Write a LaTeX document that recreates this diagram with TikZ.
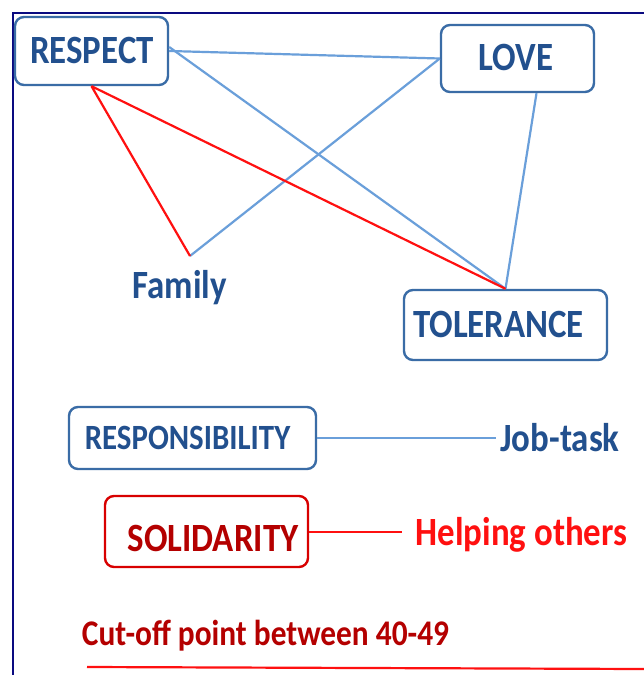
\documentclass[tikz,border=0pt]{standalone}
\usepackage{fontspec}
\setmainfont{Carlito}
\usepackage{graphicx}
\definecolor{navy}{HTML}{0A0A80}
\definecolor{boxblue}{HTML}{3A6CA6}
\definecolor{txtblue}{HTML}{22508E}
\definecolor{lineblue}{HTML}{6A9FDA}
\definecolor{lred}{HTML}{FF1010}
\definecolor{boxred}{HTML}{D80000}
\definecolor{darkred}{HTML}{B40000}
\newcommand{\tall}[1]{\scalebox{1}[1.15]{#1}}
\tikzset{
  vbox/.style={draw=boxblue, line width=2.4bp, rounded corners=9bp, inner sep=0pt},
  big/.style={font=\bfseries\fontsize{35}{38}\selectfont, inner sep=0pt},
  btxt/.style={big, text=txtblue},
  bline/.style={draw=lineblue, line width=2.2bp},
  rline/.style={draw=lred, line width=2.2bp},
}
\begin{document}
\begin{tikzpicture}[x=1bp,y=-1bp]
\useasboundingbox (0,0) rectangle (644,675);
\fill[white] (0,0) rectangle (644,675);
\draw[navy, line width=2bp] (644,13) -- (13,13) -- (13,675);

\node[vbox, minimum width=153bp, minimum height=68bp] (respect) at (91.5,51) {};
\node[btxt] (respecttxt) at (92,50) {\tall{RESPECT}};
\node[vbox, minimum width=153bp, minimum height=67bp] (love) at (517.5,58.5) {};
\node[btxt] (lovetxt) at (516,57) {\tall{LOVE}};
\node[vbox, minimum width=203bp, minimum height=70bp] (tolerance) at (505.5,325) {};
\node[btxt] (toltxt) at (498.5,324) {\tall{TOLERANCE}};
\node[btxt] (family) at (179.5,288) {\tall{Family}};
\coordinate (famtop) at (190,256);

\draw[bline] (respect.east) -- (love.west);
\draw[bline] ([yshift=4bp]respect.east) -- (tolerance.north);
\draw[bline] (love.west) -- (famtop);
\draw[bline] ([xshift=19bp]love.south) -- (tolerance.north);
\draw[rline] (respect.south) -- (famtop);
\draw[rline] (respect.south) -- (tolerance.north);

\node[vbox, minimum width=247bp, minimum height=62bp] (resp) at (192.5,438) {};
\node[btxt, font=\bfseries\fontsize{31}{34}\selectfont] (resptxt) at (187.5,438) {\tall{RESPONSIBILITY}};
\node[btxt] (job) at (560,438) {\tall{Job-task}};
\coordinate (jobend) at (496,438);
\draw[bline] (resp.east) -- (jobend);

\node[vbox, draw=boxred, minimum width=203bp, minimum height=71bp] (sol) at (206.5,531.5) {};
\node[big, text=darkred] (soltxt) at (213,538) {\tall{SOLIDARITY}};
\node[big, text=lred] (help) at (521.5,535) {\tall{Helping others}};
\coordinate (helpend) at (402,532);
\draw[rline] (sol.east |- helpend) -- (helpend);

\node[big, text=darkred, font=\bfseries\fontsize{31.5}{34}\selectfont] (cut) at (265.5,636) {\tall{Cut-off point between 40-49}};
\coordinate (cl) at (87,667);
\coordinate (cr) at (644,669);
\draw[rline] (cl) -- (cr);
\end{tikzpicture}
\end{document}
